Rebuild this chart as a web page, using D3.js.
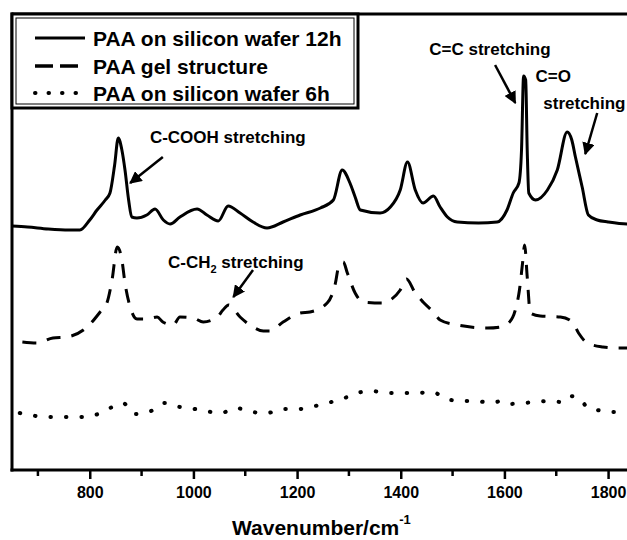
<!DOCTYPE html>
<html>
<head>
<meta charset="utf-8">
<script src="https://cdn.jsdelivr.net/npm/d3@7"></script>
<style>
  body { margin: 0; background: #fff; }
  svg { display: block; font-family: Arial, "Liberation Sans", sans-serif; font-weight: bold; }
</style>
</head>
<body>
<svg id="chart" width="627" height="540"></svg>
<script>
// spectra (arbitrary intensity units)
const wave12h = [650, 680, 720, 760, 781, 800, 814, 830, 839, 848, 855, 862, 868, 875, 881, 891, 910, 926, 942, 955, 974, 1007, 1026, 1048, 1067, 1090, 1115, 1142, 1173, 1206, 1245, 1270, 1287, 1302, 1312, 1322, 1360, 1380, 1399, 1413, 1428, 1443, 1463, 1476, 1490, 1509, 1550, 1586, 1605, 1617, 1628, 1633, 1637, 1641, 1644, 1647, 1660, 1683, 1702, 1721, 1730, 1737, 1750, 1762, 1779, 1800, 1837, 1850];
const int12h = [244, 243, 241, 240, 240, 250, 260, 270, 277, 305, 332, 320, 300, 270, 253, 252, 255, 261, 250, 246, 253, 261, 255, 249, 264, 257, 248, 242, 248, 255, 262, 270, 300, 287, 273, 260, 257, 263, 280, 308, 280, 267, 274, 263, 253, 248, 247, 248, 260, 277, 287, 320, 394, 390, 320, 277, 270, 280, 300, 338, 330, 313, 283, 255, 250, 248, 246, 246];

const waveGel = [670, 698, 729, 756, 795, 820, 833, 843, 853, 862, 868, 878, 891, 910, 930, 941, 961, 974, 1000, 1019, 1046, 1057, 1068, 1090, 1115, 1135, 1148, 1173, 1206, 1225, 1258, 1274, 1280, 1289, 1297, 1312, 1328, 1366, 1380, 1399, 1411, 1428, 1443, 1463, 1476, 1509, 1567, 1592, 1608, 1621, 1629, 1635, 1639, 1644, 1650, 1669, 1708, 1731, 1743, 1760, 1790, 1815, 1850];
const intGel = [128, 127, 132, 133, 143, 158, 167, 190, 223, 210, 187, 163, 151, 151, 153, 148, 145, 153, 152, 148, 153, 160, 165, 153, 143, 139, 139, 148, 157, 158, 167, 187, 203, 208, 197, 177, 168, 167, 170, 180, 191, 177, 168, 158, 150, 145, 142, 143, 147, 160, 180, 207, 225, 193, 157, 154, 153, 148, 137, 127, 123, 122, 122];

const wave6h = [665, 685, 714, 747, 777, 810, 839, 864, 887, 918, 945, 974, 992, 1023, 1053, 1082, 1113, 1142, 1173, 1204, 1235, 1266, 1297, 1316, 1343, 1374, 1403, 1432, 1461, 1488, 1519, 1546, 1573, 1596, 1609, 1635, 1662, 1685, 1710, 1725, 1743, 1762, 1779, 1799, 1816, 1835];
const int6h = [57, 55, 53, 53, 53, 55, 62, 67, 56, 59, 67, 63, 62, 59, 57, 62, 58, 57, 61, 61, 64, 68, 73, 77, 79, 77, 77, 77, 78, 71, 69, 69, 67, 69, 66, 67, 68, 69, 68, 74, 72, 62, 60, 58, 58, 56];

const xTicks = [800, 1000, 1200, 1400, 1600, 1800];
const xMinorTicks = [700, 900, 1100, 1300, 1500, 1700];

const seriesNames = ["PAA on silicon wafer 12h", "PAA gel structure", "PAA on silicon wafer 6h"];

// annotation anchors in data units
const labelText = ["C-COOH stretching", "C=C stretching", "C=O", "stretching"];
const labelWave = [916, 1455, 1660, 1675];
const labelInt = [327, 415, 388, 361];
const arrowFrom = [[941, 313], [1582, 405], [1779, 357], [1115, 200]];
const arrowTo = [[878, 287], [1621, 367], [1756, 316], [1077, 173]];

const svg = d3.select("#chart");
const plotLeft = 12, plotTop = 14, plotBottom = 470, plotRight = 634;

const x = d3.scaleLinear().domain([650, 1850]).range([plotLeft, plotRight]);
const y = d3.scaleLinear().domain([0, 456]).range([plotBottom, plotTop]);

// frame
svg.append("line").attr("x1", plotLeft).attr("x2", plotLeft).attr("y1", plotTop - 1.5).attr("y2", plotBottom + 1.5)
    .attr("stroke", "#000").attr("stroke-width", 3);
svg.append("line").attr("x1", plotLeft).attr("x2", plotRight).attr("y1", plotTop).attr("y2", plotTop)
    .attr("stroke", "#000").attr("stroke-width", 3);

let xAxis = svg.append("g")
    .attr("transform", "translate(0," + plotBottom + ")")
    .call(d3.axisBottom(x).tickValues(xTicks).tickSize(9).tickPadding(8).tickFormat(d3.format("d")));
xAxis.select(".domain").attr("stroke-width", 3).attr("d", "M" + (plotLeft - 1.5) + ",0H" + plotRight);
xAxis.selectAll(".tick line").attr("stroke-width", 2.5);
xAxis.selectAll(".tick text").attr("font-size", 16).attr("font-weight", "bold")
    .attr("font-family", "Arial, 'Liberation Sans', sans-serif").attr("fill", "#000");

svg.append("g").selectAll("line")
    .data(xMinorTicks)
    .enter().append("line")
    .attr("x1", d => x(d)).attr("x2", d => x(d))
    .attr("y1", plotBottom).attr("y2", plotBottom + 6)
    .attr("stroke", "#000").attr("stroke-width", 2.5);

let title = svg.append("text")
    .attr("x", 232).attr("y", 535)
    .attr("font-size", 21);
title.append("tspan").text("Wavenumber/cm");
title.append("tspan").attr("dy", -11).attr("font-size", 13).text("-1");

// curves
const line = d3.line()
    .x(d => x(d[0]))
    .y(d => y(d[1]))
    .curve(d3.curveMonotoneX);

svg.append("path")
    .datum(d3.zip(wave12h, int12h))
    .attr("d", line)
    .attr("fill", "none").attr("stroke", "#000")
    .attr("stroke-width", 3).attr("stroke-linejoin", "round");

svg.append("path")
    .datum(d3.zip(waveGel, intGel))
    .attr("d", line)
    .attr("fill", "none").attr("stroke", "#000")
    .attr("stroke-width", 3).attr("stroke-dasharray", "14,11");

svg.append("path")
    .datum(d3.zip(wave6h, int6h))
    .attr("d", line)
    .attr("fill", "none").attr("stroke", "#000")
    .attr("stroke-width", 4).attr("stroke-linecap", "round")
    .attr("stroke-dasharray", "0.5,15");

// annotations
svg.append("defs").append("marker")
    .attr("id", "head")
    .attr("viewBox", "0 0 10 10")
    .attr("refX", 9).attr("refY", 5)
    .attr("markerWidth", 5).attr("markerHeight", 5)
    .attr("markerUnits", "strokeWidth")
    .attr("orient", "auto")
    .append("path").attr("d", "M0,0L10,5L0,10z").attr("fill", "#000");

svg.append("g").selectAll("line")
    .data(d3.range(arrowFrom.length))
    .enter().append("line")
    .attr("x1", i => x(arrowFrom[i][0])).attr("y1", i => y(arrowFrom[i][1]))
    .attr("x2", i => x(arrowTo[i][0])).attr("y2", i => y(arrowTo[i][1]))
    .attr("stroke", "#000").attr("stroke-width", 2.5)
    .attr("marker-end", "url(#head)");

svg.append("g").selectAll("text")
    .data(labelText)
    .enter().append("text")
    .attr("x", (d, i) => x(labelWave[i]))
    .attr("y", (d, i) => y(labelInt[i]))
    .attr("font-size", 17)
    .text(d => d);

let ch2 = svg.append("text")
    .attr("x", x(951)).attr("y", y(202))
    .attr("font-size", 17);
ch2.append("tspan").text("C-CH");
ch2.append("tspan").attr("dy", 5).attr("font-size", 11).text("2");
ch2.append("tspan").attr("dy", -5).text(" stretching");

// legend
let legend = svg.append("g");
legend.append("rect").attr("x", plotLeft).attr("y", plotTop).attr("width", 346).attr("height", 94)
    .attr("fill", "#fff").attr("stroke", "#000").attr("stroke-width", 3);
legend.append("rect").attr("x", plotLeft + 4).attr("y", plotTop + 4).attr("width", 338).attr("height", 86)
    .attr("fill", "none").attr("stroke", "#000").attr("stroke-width", 1);

const dashes = [null, "18,7", "0.5,13"];
const widths = [3, 3.5, 4];
const rowY = [38, 66, 93];

seriesNames.forEach((name, i) => {
    legend.append("line")
        .attr("x1", 35).attr("x2", 85)
        .attr("y1", rowY[i]).attr("y2", rowY[i])
        .attr("stroke", "#000").attr("stroke-width", widths[i])
        .attr("stroke-linecap", i === 2 ? "round" : "butt")
        .attr("stroke-dasharray", dashes[i]);
    legend.append("text")
        .attr("x", 93).attr("y", rowY[i] + 7.5)
        .attr("font-size", 21)
        .text(name);
});
</script>
</body>
</html>
